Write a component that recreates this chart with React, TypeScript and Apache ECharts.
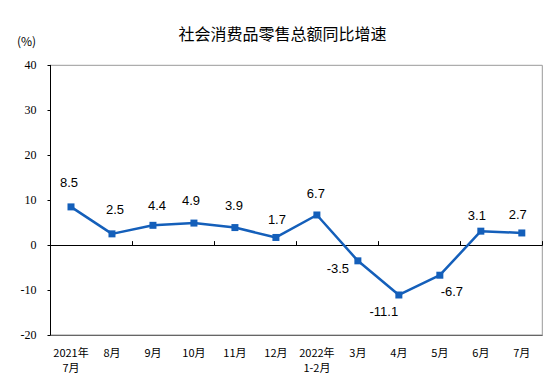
import React, { useEffect, useRef } from "react";
import * as echarts from "echarts";

const titleText = "社会消费品零售总额同比增速";
const unitText = "(%)";
const categories = [
  "2021年\n7月",
  "8月",
  "9月",
  "10月",
  "11月",
  "12月",
  "2022年\n1-2月",
  "3月",
  "4月",
  "5月",
  "6月",
  "7月",
];
const growth = [8.5, 2.5, 4.4, 4.9, 3.9, 1.7, 6.7, -3.5, -11.1, -6.7, 3.1, 2.7];
const labelOffsets: [number, number][] = [
  [-2, -24],
  [3, -24],
  [4, -20],
  [-3, -23],
  [-1, -22],
  [1, -18],
  [-1, -21],
  [-20, 8],
  [-15, 17],
  [12, 16],
  [-4, -16],
  [-4, -18],
];
const yMin = -20;
const yMax = 40;
const yInterval = 10;

export default function App() {
  const ref = useRef<HTMLDivElement>(null);
  useEffect(() => {
    if (!ref.current) return;
    const chart = echarts.init(ref.current, null, { renderer: "svg" });
    const lineColor = "#145fba";
    chart.setOption({
      animation: false,
      backgroundColor: "#ffffff",
      graphic: [
        {
          type: "text",
          x: 282.5,
          y: 33,
          style: {
            text: titleText,
            font: '16px "Noto Sans CJK SC"',
            fill: "#000",
            textAlign: "center",
            textVerticalAlign: "middle",
          },
        },
        {
          type: "text",
          x: 26.5,
          y: 40,
          style: {
            text: unitText,
            font: '12px "Noto Sans CJK SC"',
            fill: "#000",
            textAlign: "center",
            textVerticalAlign: "middle",
          },
        },
      ],
      grid: {
        left: 50.5,
        right: 11.7,
        top: 65.3,
        bottom: 54,
        containLabel: false,
        show: true,
        borderColor: "#999",
        borderWidth: 1,
        backgroundColor: "transparent",
      },
      xAxis: [
        {
          type: "category",
          data: categories,
          position: "bottom",
          boundaryGap: true,
          axisLine: { show: true, onZero: true, lineStyle: { color: "#000", width: 1 } },
          axisTick: { show: true, inside: true, length: 4, lineStyle: { color: "#000" } },
          axisLabel: { show: false },
          splitLine: { show: false },
        },
        {
          type: "category",
          data: categories,
          position: "bottom",
          boundaryGap: true,
          axisLine: { show: true, onZero: false, lineStyle: { color: "#666", width: 1 } },
          axisTick: { show: false },
          axisLabel: {
            show: true,
            interval: 0,
            margin: 9,
            color: "#000",
            fontSize: 11,
            lineHeight: 15.5,
            fontFamily: "Noto Sans CJK SC",
          },
          splitLine: { show: false },
        },
      ],
      yAxis: {
        type: "value",
        min: yMin,
        max: yMax,
        interval: yInterval,
        axisLine: { show: true, lineStyle: { color: "#000", width: 1 } },
        axisTick: { show: true, length: 3, lineStyle: { color: "#000" } },
        axisLabel: {
          color: "#000",
          fontSize: 12,
          fontFamily: "Liberation Serif",
          margin: 14,
        },
        splitLine: { show: false },
      },
      series: [
        {
          type: "line",
          xAxisIndex: 0,
          data: growth.map((v, i) => ({
            value: v,
            label: { offset: labelOffsets[i] },
          })),
          lineStyle: { color: lineColor, width: 2.5 },
          itemStyle: { color: lineColor },
          symbol: "rect",
          symbolSize: 7,
          showSymbol: true,
          label: {
            show: true,
            position: "inside",
            color: "#000",
            fontSize: 13,
            fontFamily: "Liberation Sans",
            formatter: (p: any) => p.value.toFixed(1),
          },
        },
      ],
    });
    return () => chart.dispose();
  }, []);
  return (
    <div
      ref={ref}
      style={{ position: "fixed", left: 0, top: 0, width: 554, height: 389 }}
    />
  );
}
